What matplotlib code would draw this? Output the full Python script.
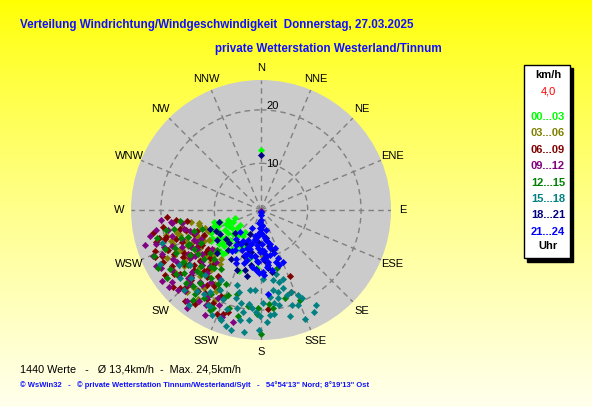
import numpy as np
import matplotlib
matplotlib.use("Agg")
import matplotlib.pyplot as plt
from matplotlib.patches import Rectangle

plt.rcParams['font.family'] = ['Liberation Sans', 'DejaVu Sans']

# wind direction (deg) and speed (km/h) per 3-hour block
dir_00 = [0, 254, 253, 253, 241, 238, 234, 223, 226, 216, 237, 207, 212, 193, 248, 244, 230,
          220, 229, 236, 247, 214, 225, 240, 232, 218, 251, 246, 184, 200,
          250, 243, 235, 228, 222, 217, 245, 238, 231, 256, 210, 226, 249, 233, 221]
spd_00 = [12.5, 9.3, 7.7, 6.4, 9.0, 7.6, 6.1, 7.6, 9.3, 6.4, 10.9, 8.6, 10.1, 10.5, 8.4, 10.2, 8.2,
          11.5, 10.6, 8.8, 11.2, 7.2, 12.0, 11.8, 9.9, 9.0, 10.6, 7.0, 12.1, 13.5,
          9.9, 8.0, 10.4, 9.6, 7.9, 10.4, 11.6, 12.2, 11.3, 10.3, 9.0, 11.0, 7.4, 6.8, 12.1]

dir_03 = [258, 254, 255, 249, 178, 250, 244, 239, 246, 252, 236, 231, 242, 228, 224, 219, 233, 247,
          240, 226, 213, 221, 237, 245, 258, 251, 230, 217, 209, 243, 235, 229, 248, 222, 238,
          260, 256, 253, 250, 247, 244, 241, 238, 234, 231, 227, 223, 220, 216, 212, 207, 203,
          248, 232, 226, 215, 243, 255, 237, 219]
spd_03 = [13.1, 15.8, 17.6, 18.9, 9.9, 14.2, 16.5, 15.1, 13.0, 12.2, 17.2, 16.0, 19.8, 18.4, 14.8,
          17.1, 13.6, 20.4, 12.6, 19.6, 16.2, 20.5, 18.0, 15.4, 16.4, 19.1, 14.3, 13.9, 18.7, 17.9,
          21.2, 12.8, 11.9, 22.0, 14.7,
          14.5, 13.2, 17.2, 15.9, 14.0, 18.2, 13.4, 17.0, 19.0, 14.9, 16.9, 18.1, 15.8, 19.4, 17.5,
          20.2, 18.9, 16.7, 20.6, 13.5, 21.7, 21.0, 19.7, 15.6, 13.1]

dir_06 = [266, 261.5, 254.7, 253, 156, 160, 176, 200, 254, 248, 243, 237, 232, 228, 224, 219, 214,
          209, 250, 245, 240, 235, 230, 226, 221, 216, 211, 257, 252, 246, 238, 233, 227, 222, 217,
          205, 249, 241, 236, 231,
          263, 260, 258, 255, 251, 247, 244, 242, 239, 234, 231, 229, 225, 223, 218, 215, 212, 207,
          203, 198, 234, 246, 253, 227, 213, 220, 239]
spd_06 = [18.9, 15.3, 21.1, 20.0, 14.8, 17.6, 19.8, 22.0, 19.8, 17.2, 19.5, 16.8, 20.6, 18.1, 21.4,
          17.4, 19.9, 21.5, 14.6, 21.8, 15.2, 18.9, 16.1, 22.3, 14.9, 18.6, 20.8, 16.8, 13.8, 12.9,
          20.9, 14.2, 19.2, 16.3, 22.5, 19.0, 22.6, 17.8, 23.0, 13.5,
          17.2, 19.9, 22.0, 15.8, 18.0, 20.2, 16.1, 22.0, 18.2, 21.5, 17.5, 23.2, 19.8, 16.8, 20.5,
          22.8, 18.0, 20.9, 22.5, 21.4, 13.6, 23.0, 21.8, 14.4, 15.9, 23.5, 14.1]

dir_09 = [217, 234.4, 194, 262.4, 253.5, 258, 241, 262, 250, 246, 243, 238, 235, 231, 228, 225, 222,
          219, 215, 212, 256, 252, 248, 244, 240, 236, 232, 229, 226, 223, 220, 210, 247, 239, 233,
          227, 221, 206, 259, 242, 180,
          264, 261, 257, 254, 251, 249, 245, 242, 239, 236, 233, 230, 227, 224, 221, 218, 214, 211,
          208, 204, 200, 232, 246, 226, 253]
spd_09 = [24.2, 24.1, 22.9, 18.3, 15.1, 19.1, 20.1, 18.1, 17.0, 21.6, 14.6, 19.7, 16.4, 22.7, 18.6,
          20.9, 15.4, 23.2, 17.7, 20.4, 16.2, 21.9, 19.3, 13.8, 22.8, 17.3, 21.0, 15.8, 19.4, 22.1,
          18.9, 21.7, 23.3, 17.2, 15.0, 20.0, 16.8, 19.6, 21.3, 16.0, 1.4,
          20.0, 16.3, 22.5, 18.6, 14.4, 20.7, 17.6, 23.6, 15.3, 21.3, 18.2, 23.8, 16.3, 20.4, 14.2,
          19.1, 21.9, 16.3, 23.5, 20.8, 22.6, 13.0, 14.9, 22.9, 23.9]

dir_12 = [180, 164.6, 164.7, 156.6, 182, 182, 173, 240.6, 257.7, 252.6, 252, 206, 175, 244, 236, 229,
          222, 216, 211, 205, 248, 241, 233, 226, 219, 213, 208, 238, 231, 224, 217, 201, 246, 235,
          227, 198, 250, 220,
          262, 258, 255, 251, 247, 243, 240, 237, 233, 230, 226, 223, 218, 214, 210, 207, 203, 196,
          192, 188, 234, 245, 221, 228]
spd_12 = [24.5, 12.5, 18.3, 19.6, 19.6, 20.7, 19.7, 23.4, 17.9, 14.4, 12.9, 21.7, 19.0, 16.4, 18.8,
          15.3, 20.3, 17.1, 19.5, 16.6, 20.6, 14.1, 21.2, 17.8, 15.2, 20.8, 18.0, 17.0, 19.9, 13.9,
          22.4, 18.4, 18.8, 15.6, 16.7, 20.6, 15.9, 19.0,
          16.6, 19.4, 21.5, 17.1, 23.1, 19.1, 15.8, 21.6, 18.3, 13.7, 20.9, 17.6, 21.2, 14.6, 17.2,
          22.3, 19.1, 17.7, 21.6, 19.4, 23.0, 16.2, 15.4, 12.4]

dir_15 = [166, 164, 171.5, 174, 179, 185, 187, 194, 190, 175, 169, 162, 152.5, 169, 188, 194, 159,
          163, 180.5, 200, 208, 170, 156.5, 162, 207, 221, 232, 198, 251.6, 209, 184, 178, 196, 203,
          214, 191, 167, 226, 186, 201,
          212, 218, 224, 230, 236, 242, 205, 199, 195, 192, 188, 183, 177, 172, 168, 160, 155, 150,
          158, 181, 173, 165, 197, 210, 217]
spd_15 = [15.1, 16.4, 16.4, 17.6, 18.7, 19.7, 19.0, 20.1, 20.7, 21.0, 19.4, 20.0, 22.8, 18.0, 24.4,
          24.5, 20.4, 17.9, 21.1, 23.2, 21.6, 14.5, 18.6, 14.8, 18.1, 17.3, 18.1, 16.1, 20.8, 21.6,
          16.2, 14.2, 18.3, 19.3, 20.2, 22.3, 13.6, 19.5, 21.9, 22.9,
          19.4, 20.6, 22.0, 21.0, 19.7, 22.6, 23.0, 20.9, 17.2, 19.0, 16.4, 20.3, 22.3, 18.9, 16.9,
          17.6, 19.5, 21.8, 23.2, 23.7, 20.8, 21.9, 23.9, 16.4, 23.6]

dir_18 = [0, 254, 163, 170, 173, 200, 210, 190, 183, 224, 236, 205, 195, 215, 187, 179, 228, 202,
          245, 193, 168, 230, 220, 240, 212, 198, 185, 175, 250, 205, 192, 170, 226]
spd_18 = [11.6, 9.4, 9.1, 6.6, 12.2, 10.5, 8.2, 11.8, 7.4, 9.8, 11.2, 6.3, 12.8, 8.9, 10.0, 5.5,
          7.8, 13.4, 10.6, 9.3, 8.2, 9.8, 11.0, 10.2, 12.0, 9.0, 12.4, 10.8, 11.4, 8.0, 13.9, 13.0,
          12.8]

dir_21 = [180, 180, 176, 183, 172, 193, 165, 197, 179, 160, 200, 183, 173, 224, 203, 213, 160, 157,
          185, 207, 166, 175, 188, 195, 170, 178, 190, 210, 168, 182, 198, 162, 186, 174, 205, 192,
          177, 216, 175, 184, 188, 179,
          185, 178, 182, 188, 176, 170, 195, 200, 186, 181, 174, 167, 205, 210, 215, 220, 196, 189,
          178, 164, 170, 192, 185, 179, 198, 207, 184, 176, 172, 163]
spd_21 = [2.2, 3.1, 4.3, 5.4, 6.5, 6.3, 7.8, 8.1, 8.7, 8.8, 10.2, 11.0, 11.6, 6.9, 7.4, 10.2, 10.8,
          11.8, 12.5, 5.0, 5.1, 9.5, 9.9, 8.9, 7.2, 10.5, 7.0, 8.6, 9.8, 13.0, 11.6, 12.0, 6.1, 11.9,
          12.3, 10.0, 13.4, 9.3, 17.1, 1.6, 3.8, 4.8,
          3.5, 4.0, 4.6, 5.8, 6.0, 7.0, 7.6, 8.8, 7.9, 9.2, 10.1, 8.5, 9.6, 7.9, 10.6, 8.4, 11.0,
          12.0, 12.8, 11.3, 12.6, 6.8, 10.8, 7.6, 10.0, 11.6, 8.4, 9.0, 11.0, 9.6]

groups = [(dir_00, spd_00), (dir_03, spd_03), (dir_06, spd_06), (dir_09, spd_09),
          (dir_12, spd_12), (dir_15, spd_15), (dir_18, spd_18), (dir_21, spd_21)]
labels = ["00...03", "03...06", "06...09", "09...12", "12...15", "15...18", "18...21", "21...24"]
colors = ['#00ff00', '#808000', '#800000', '#800080', '#008000', '#008080', '#000080', '#0000ff']

directions = ["N", "NNE", "NE", "ENE", "E", "ESE", "SE", "SSE",
              "S", "SSW", "SW", "WSW", "W", "WNW", "NW", "NNW"]

W, H = 592, 407
fig = plt.figure(figsize=(W / 100, H / 100), dpi=100)

# yellow gradient background
bg = fig.add_axes([0, 0, 1, 1])
grad = np.linspace(0, 1, 256)[:, None]
img = np.zeros((256, 2, 3))
img[:, :, 0] = 1.0
img[:, :, 1] = 1.0
img[:, :, 2] = (grad ** 0.8) * 0.93
bg.imshow(img[::-1], aspect='auto', extent=[0, 1, 0, 1], origin='lower')
bg.axis('off')

def fx(x):
    return x / W

def fy(y):
    return 1 - y / H

cx, cy, R = 261, 210, 130
ax = fig.add_axes([fx(cx - R), fy(cy + R), 2 * R / W, 2 * R / H], projection='polar')
ax.set_theta_zero_location('N')
ax.set_theta_direction(-1)
ax.set_facecolor('#cbcbcb')
ax.spines['polar'].set_visible(False)
ax.set_ylim(1.25, 25.6)
ax.set_xticks(np.radians(np.arange(0, 360, 22.5)))
ax.set_xticklabels([])
ax.set_yticks([10, 20])
ax.set_yticklabels([])
ax.grid(True, color='#808080', linestyle=(0, (4, 3)), linewidth=1)

# compass labels just outside the disc
for i, name in enumerate(directions):
    ax.text(np.radians(i * 22.5), 27.9, name, fontsize=8, ha='center', va='center',
            clip_on=False)

ax.text(np.radians(6.2), 9.9, "10", fontsize=8, ha='left', va='center')
ax.text(np.radians(2.75), 20.75, "20", fontsize=8, ha='left', va='center')

for (d, s), c in zip(groups, colors):
    ax.plot(np.radians(d), s, linestyle='none', marker='D', ms=3.2, mew=0.4,
            color=c, mec=c, clip_on=False)

# titles
fig.text(fx(20), fy(25), "Verteilung Windrichtung/Windgeschwindigkeit  Donnerstag, 27.03.2025",
         color='#1010ff', fontsize=8.4, fontweight='bold', ha='left', va='center')
fig.text(fx(215), fy(49), "private Wetterstation Westerland/Tinnum",
         color='#1010ff', fontsize=8.4, fontweight='bold', ha='left', va='center')

# legend box
fig.patches.append(Rectangle((fx(527), fy(262)), (573 - 527) / W, (262 - 68) / H,
                             transform=fig.transFigure, facecolor='black', edgecolor='black'))
fig.patches.append(Rectangle((fx(524), fy(258)), (570 - 524) / W, (258 - 65) / H,
                             transform=fig.transFigure, facecolor='white', edgecolor='black',
                             linewidth=1))
lx = fx(548)
fig.text(lx, fy(75), "km/h", fontsize=8, fontweight='bold', ha='center', va='center')
fig.text(lx, fy(91), "4,0", fontsize=8, color='red', ha='center', va='center')
for i, (lab, c) in enumerate(zip(labels, colors)):
    fig.text(lx, fy(117 + i * 16.4), lab, fontsize=8, fontweight='bold', color=c,
             ha='center', va='center')
fig.text(lx, fy(246), "Uhr", fontsize=8, fontweight='bold', ha='center', va='center')

# footer
fig.text(fx(20), fy(369), "1440 Werte   -   \u00d8 13,4km/h  -  Max. 24,5km/h",
         fontsize=7.8, ha='left', va='center')
fig.text(fx(20), fy(385),
         "\u00a9 WsWin32   -   \u00a9 private Wetterstation Tinnum/Westerland/Sylt   -   "
         "54\u00b054'13\" Nord; 8\u00b019'13\" Ost",
         fontsize=5.5, fontweight='bold', color='#1010ff', ha='left', va='center')

fig.savefig("out.png", dpi=100)
